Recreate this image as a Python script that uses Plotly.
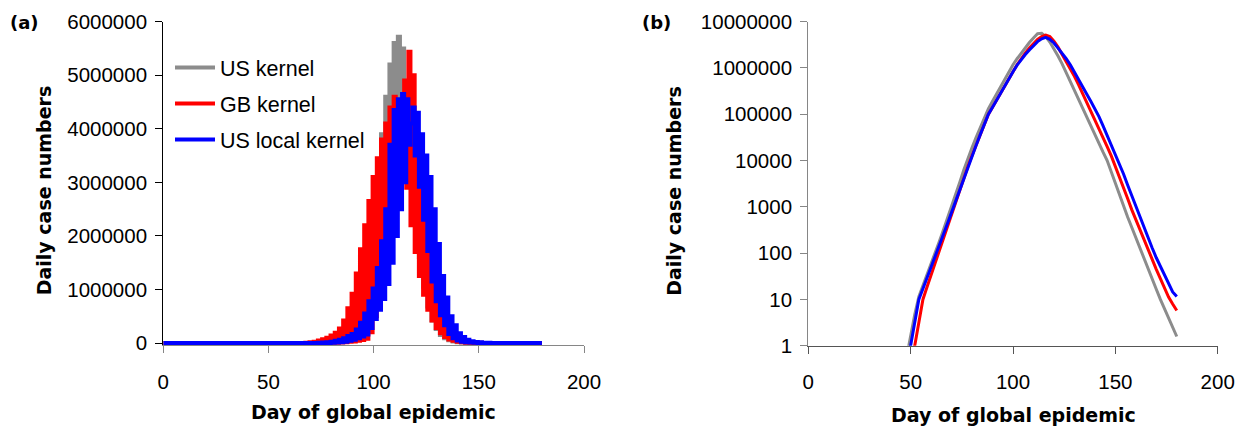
import plotly.graph_objects as go

# ---------------- data ----------------
# Panel (a): daily case numbers (linear), days 0, 60..160, 180
lin_days = [0] + list(range(60, 161)) + [180]

us_kernel_lin = [0,
    0, 0, 0, 0, 0, 0, 0, 0, 0, 0,                       # 60-69
    0, 0, 0, 0, 5000, 0, 10000, 0, 20000, 5000,          # 70-79
    35000, 10000, 60000, 20000, 100000, 35000, 160000, 60000, 260000, 100000,   # 80-89
    400000, 160000, 600000, 260000, 900000, 400000, 1300000, 600000, 1900000, 900000,  # 90-99
    2500000, 1300000, 3100000, 1750000, 3900000, 2250000, 4600000, 2800000, 5200000, 3300000,  # 100-109
    5600000, 3750000, 5720000, 4100000, 5500000, 4300000, 4500000, 4200000, 3300000, 3700000,  # 110-119
    2300000, 3000000, 1600000, 2200000, 1050000, 1500000, 680000, 1000000, 420000, 650000,     # 120-129
    260000, 400000, 150000, 240000, 90000, 140000, 50000, 80000, 30000, 45000,     # 130-139
    15000, 25000, 8000, 13000, 4000, 7000, 2000, 3000, 0, 0,                       # 140-149
    0, 0, 0, 0, 0, 0, 0, 0, 0, 0,                       # 150-159
    0,                                                  # 160
    0]

gb_kernel_lin = [0,
    0, 0, 0, 0, 0, 0, 2000, 0, 5000, 0,                  # 60-69
    12000, 0, 25000, 0, 45000, 0, 70000, 0, 100000, 0,   # 70-79
    140000, 3000, 190000, 6000, 270000, 10000, 420000, 15000, 650000, 22000,     # 80-89
    920000, 30000, 1300000, 40000, 1750000, 55000, 2200000, 80000, 2650000, 200000,   # 90-99
    3100000, 500000, 3450000, 950000, 3800000, 1500000, 4100000, 2100000, 4400000, 2650000,  # 100-109
    4600000, 3200000, 4500000, 3900000, 3800000, 4900000, 2900000, 5440000, 2200000, 5000000,  # 110-119
    1700000, 3900000, 1250000, 3100000, 900000, 2400000, 620000, 1750000, 420000, 1200000,     # 120-129
    280000, 800000, 180000, 520000, 110000, 330000, 65000, 200000, 40000, 120000,  # 130-139
    22000, 70000, 12000, 40000, 6000, 22000, 3000, 12000, 0, 6000,                 # 140-149
    0, 3000, 0, 0, 0, 0, 0, 0, 0, 0,                    # 150-159
    0,                                                  # 160
    0]

us_local_lin = [0,
    0, 0, 0, 0, 0, 0, 0, 0, 0, 0,                       # 60-69
    0, 0, 2000, 0, 4000, 0, 8000, 0, 15000, 2000,        # 70-79
    25000, 4000, 40000, 8000, 60000, 14000, 90000, 25000, 130000, 40000,         # 80-89
    170000, 60000, 250000, 90000, 380000, 120000, 550000, 160000, 780000, 280000,  # 90-99
    1020000, 450000, 1400000, 620000, 1900000, 820000, 2500000, 1100000, 3700000, 1500000,  # 100-109
    4350000, 2000000, 4550000, 2500000, 4650000, 3000000, 4550000, 3700000, 4100000, 4400000,  # 110-119
    3500000, 4300000, 2920000, 3900000, 2300000, 3500000, 1720000, 3100000, 1150000, 2500000,  # 120-129
    780000, 1850000, 520000, 1250000, 330000, 850000, 170000, 500000, 90000, 330000,  # 130-139
    45000, 180000, 25000, 110000, 14000, 60000, 8000, 35000, 4000, 20000,        # 140-149
    2000, 12000, 0, 7000, 0, 4000, 0, 2000, 0, 0,       # 150-159
    0,                                                  # 160
    0]

# Panel (b): daily case numbers (log scale), days 48..180 every 2 days
log_days = list(range(48, 181, 2))

us_kernel_log = [0.56, 1.66, 4.68, 11.5, 19.5, 33.9, 57.5, 100, 178, 316,
                 562, 1000, 1862, 3388, 6310, 11480, 19050, 31620, 52480, 87100,
                 131800, 190500, 275400, 398100, 575400, 831800, 1175000, 1585000, 2089000, 2754000,
                 3548000, 4467000, 5495000, 5623000, 4786000, 3631000, 2630000, 1820000, 1230000, 794300,
                 501200, 316200, 199500, 125900, 81280, 53700, 35480, 22910, 15140, 10000,
                 5623, 3162, 1778, 1000, 603, 363, 214, 129, 77.6, 46.8,
                 27.5, 16.6, 10, 6.31, 3.98, 2.51, 1.58]

gb_kernel_log = [0.1, 0.32, 1.0, 3.16, 10, 18.6, 33.9, 63.1, 117, 214,
                 398, 741, 1334, 2371, 4217, 7499, 12880, 21380, 36310, 60260,
                 100000, 141300, 204200, 288400, 416900, 588800, 831800, 1175000, 1585000, 2089000,
                 2692000, 3388000, 4169000, 4786000, 5129000, 4786000, 3802000, 2818000, 1995000, 1413000,
                 1000000, 660700, 436500, 281800, 186200, 123000, 79430, 50120, 31620, 19950,
                 12590, 7586, 4467, 2570, 1514, 871, 525, 316, 191, 115,
                 70.8, 44.7, 28.2, 17.8, 11.2, 7.94, 5.75]

us_local_log = [0.32, 1.0, 3.16, 10, 17, 28.8, 49, 83.2, 145, 251,
                437, 759, 1334, 2371, 4217, 7499, 12880, 21380, 36310, 60260,
                100000, 141300, 204200, 288400, 416900, 588800, 831800, 1148000, 1514000, 1950000,
                2455000, 3020000, 3715000, 4266000, 4571000, 4169000, 3467000, 2692000, 2089000, 1585000,
                1175000, 831800, 575400, 398100, 275400, 190500, 131800, 89130, 56230, 35480,
                22390, 14130, 8710, 5129, 2951, 1738, 1000, 603, 363, 214,
                129, 79.4, 52.5, 34.7, 22.9, 14.5, 11.5]

series_names = ["US kernel", "GB kernel", "US local kernel"]

x_ticks = [0, 50, 100, 150, 200]
lin_ticks = [0, 1000000, 2000000, 3000000, 4000000, 5000000, 6000000]
log_ticks = [1, 10, 100, 1000, 10000, 100000, 1000000, 10000000]

# ---------------- style ----------------
GRAY = "#8c8c8c"
RED = "#ff0000"
BLUE = "#0000ff"
FONT = "DejaVu Sans"
ARIAL = "Liberation Sans, Arial, sans-serif"
TICKFONT = dict(family=ARIAL, size=20.5, color="#000000")

fig = go.Figure()

lin_series = [us_kernel_lin, gb_kernel_lin, us_local_lin]
log_series = [us_kernel_log, gb_kernel_log, us_local_log]
colors = [GRAY, RED, BLUE]

for name, ys, c in zip(series_names, lin_series, colors):
    fig.add_trace(go.Scatter(x=lin_days, y=ys, mode="lines", name=name,
                             line=dict(color=c, width=4, shape="hvh"),
                             xaxis="x", yaxis="y", legendgroup=name,
                             hoverinfo="skip"))

for name, ys, c in zip(series_names, log_series, colors):
    fig.add_trace(go.Scatter(x=log_days, y=ys, mode="lines", name=name,
                             line=dict(color=c, width=3),
                             xaxis="x2", yaxis="y2", showlegend=False,
                             hoverinfo="skip"))

# The page body has the browser's default 8px margin: the figure is sized
# to fit the 1246x429 window inside it, and positions are given in window px.
OFF = 8
W, H = 1246 - OFF, 429 - OFF

def px_x(p):
    return (p - OFF) / W

def px_y(p):
    return (H - (p - OFF)) / H

fig.update_layout(
    width=W, height=H,
    autosize=False,
    margin=dict(l=0, r=0, t=0, b=0, pad=0, autoexpand=False),
    paper_bgcolor="white", plot_bgcolor="white",
    showlegend=True,
    legend=dict(x=px_x(170), y=px_y(47), xanchor="left", yanchor="top",
                font=dict(family=ARIAL, size=21.5, color="#000000"),
                bgcolor="rgba(0,0,0,0)", tracegroupgap=5, itemwidth=40),
    xaxis=dict(domain=[px_x(163.3), px_x(584)], range=[0, 200], anchor="y",
               tickvals=x_ticks, ticktext=[str(v) for v in x_ticks],
               showline=True, linecolor="#868686", linewidth=1.3,
               ticks="outside", ticklen=7, tickcolor="#868686", tickwidth=1.3,
               tickfont=TICKFONT, ticklabelstandoff=11, automargin=False,
               showgrid=False, zeroline=False),
    yaxis=dict(domain=[px_y(345), px_y(21.7)], range=[-37348, 6000000], anchor="x",
               tickvals=lin_ticks, ticktext=[str(v) for v in lin_ticks],
               showline=True, linecolor="#000000", linewidth=1.3,
               ticks="outside", ticklen=7, tickcolor="#000000", tickwidth=1.3,
               tickfont=TICKFONT, ticklabelstandoff=4, automargin=False,
               showgrid=False, zeroline=False),
    xaxis2=dict(domain=[px_x(808.3), px_x(1217.7)], range=[0, 200], anchor="y2",
                tickvals=x_ticks, ticktext=[str(v) for v in x_ticks],
                showline=True, linecolor="#555555", linewidth=1.3,
                ticks="outside", ticklen=7, tickcolor="#555555", tickwidth=1.3,
                tickfont=TICKFONT, ticklabelstandoff=11, automargin=False,
                showgrid=False, zeroline=False),
    yaxis2=dict(domain=[px_y(345.7), px_y(21.7)], type="log", range=[0, 7], anchor="x2",
                tickvals=log_ticks, ticktext=[str(v) for v in log_ticks],
                showline=True, linecolor="#868686", linewidth=1.3,
                ticks="outside", ticklen=7, tickcolor="#868686", tickwidth=1.3,
                tickfont=TICKFONT, ticklabelstandoff=4, automargin=False,
                showgrid=False, zeroline=False),
)

title_font = dict(family=FONT, size=19, color="#000000")
annos = [
    dict(text="<b>Day of global epidemic</b>", x=px_x(373.7), y=px_y(412), font=title_font),
    dict(text="<b>Day of global epidemic</b>", x=px_x(1013), y=px_y(415), font=title_font),
    dict(text="<b>Daily case numbers</b>", x=px_x(43.5), y=px_y(190.8), font=title_font, textangle=-90),
    dict(text="<b>Daily case numbers</b>", x=px_x(674), y=px_y(190.8), font=title_font, textangle=-90),
    dict(text="<b>(a)</b>", x=px_x(24), y=px_y(22), font=dict(family=FONT, size=18, color="#000000")),
    dict(text="<b>(b)</b>", x=px_x(656), y=px_y(22), font=dict(family=FONT, size=18, color="#000000")),
]
for a in annos:
    fig.add_annotation(xref="paper", yref="paper", xanchor="center", yanchor="middle",
                       showarrow=False, **a)

fig.write_html("out.html")
